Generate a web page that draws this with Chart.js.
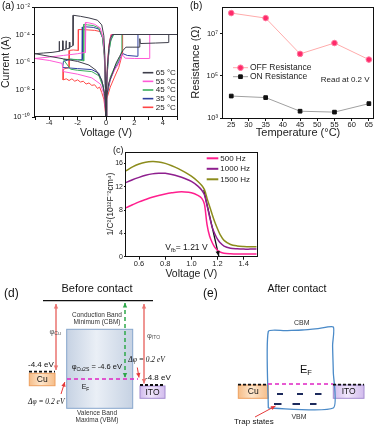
<!DOCTYPE html>
<html lang="en">
<head>
<meta charset="UTF-8">
<title>Cu2S memristor figure</title>
<script src="https://cdn.jsdelivr.net/npm/chart.js"></script>
<style>
  body { margin: 0; background: #fff; font-family: 'Liberation Sans', Arial, sans-serif; }
  #page { position: relative; width: 378px; height: 428px; overflow: hidden; background: #fff; }
  canvas { position: absolute; }
  .tag { position: absolute; font-size: 10px; color: #111; line-height: 12px; }
</style>
</head>
<body>
<div id="page">
  <canvas id="ivChart" width="188" height="139" style="left:0px;top:0px"></canvas>
  <canvas id="resChart" width="190" height="140" style="left:188px;top:0px"></canvas>
  <canvas id="mottChart" width="162" height="140" style="left:100px;top:140px"></canvas>
  <canvas id="bandChart" width="378" height="158" style="left:0px;top:270px"></canvas>
  <div class="tag" style="left:2px;top:0px">(a)</div>
  <div class="tag" style="left:190px;top:0px">(b)</div>
  <div class="tag" style="left:113px;top:144px;font-size:9px">(c)</div>
</div>

<script>
// ---------- (a) I-V sweeps, [voltage (V), current (A)] ----------
const iv65 = [[0,1e-10],[0.05,3e-9],[0.2,3e-8],[0.5,2e-7],[0.7,8e-7],[0.95,2.5e-6],[1.2,7e-6],[1.4,1.2e-5],[1.9,1.2e-5],[2.35,1.2e-5],
  [2.38,5e-5],[2.42,2.2e-5],[3.5,2.4e-5],[4.4,2.6e-5],[4.42,1e-4],[5,1e-4],[0.45,1e-4],[0.3,5e-5],[0.2,1e-5],[0.1,5e-7],[0.03,1e-8],[0,1e-10],
  [-0.03,1e-8],[-0.08,3e-6],[-0.15,8e-5],[-0.3,5e-4],[-0.6,1.1e-3],[-1.2,1.6e-3],[-1.8,2.1e-3],[-2.3,2.5e-3],[-2.32,1.6e-5],[-2.52,1.2e-5],
  [-2.55,2.8e-5],[-2.58,1e-5],[-2.77,9e-6],[-2.8,3.5e-5],[-2.83,8e-6],[-3.0,7.5e-6],[-3.03,3.5e-5],[-3.06,7e-6],[-3.24,6.5e-6],[-3.27,3.2e-5],
  [-3.3,6e-6],[-3.8,5e-6],[-4.4,4.5e-6],[-5,4e-6],
  [-4,2.6e-6],[-3,1.7e-6],[-2,1.1e-6],[-1.2,6e-7],[-0.7,2.5e-7],[-0.3,5e-8],[-0.1,5e-9],[0,1e-10]];
const iv55 = [[0,1e-10],[0.05,5e-9],[0.3,6e-8],[0.6,2.5e-7],[0.9,8e-7],[1.05,2e-6],[1.12,3.5e-6],[1.2,3e-6],[1.35,1.9e-6],[2,1.8e-6],[3.05,1.8e-6],
  [3.08,1e-4],[5,1e-4],[0.4,1e-4],[0.25,3e-5],[0.12,1e-6],[0.04,1e-8],[0,1e-10],
  [-0.03,1e-8],[-0.1,3e-6],[-0.2,5e-5],[-0.4,3e-4],[-0.8,5.5e-4],[-1.2,7e-4],[-1.42,7.5e-4],[-1.45,5e-6],[-2,4e-6],[-3,3e-6],[-4,2.3e-6],[-5,1.8e-6],
  [-4,1.3e-6],[-3.1,8e-7],[-3.0,2e-7],[-2,1.3e-7],[-1,7e-8],[-0.4,2.5e-8],[-0.15,5e-9],[0,1e-10]];
const iv45 = [[0,1e-10],[0.05,4e-9],[0.3,8e-8],[0.6,4e-7],[0.9,1.5e-6],[1.05,3.5e-6],[1.1,6e-6],[1.12,1e-4],[3,1e-4],[0.55,1e-4],[0.35,4e-5],
  [0.2,5e-6],[0.08,1e-7],[0,1e-10],
  [-0.04,1e-8],[-0.12,3e-6],[-0.25,6e-5],[-0.5,3e-4],[-0.9,4.5e-4],[-1.3,5e-4],[-1.55,5.5e-4],[-1.57,1.2e-6],[-2,1.5e-6],[-2.5,1.6e-6],[-3,1.5e-6],
  [-2.5,3e-7],[-2,2.5e-7],[-1,2e-7],[-0.5,1e-7],[-0.2,1.5e-8],[-0.05,1e-9],[0,1e-10]];
const iv35 = [[0,1e-10],[0.05,3e-9],[0.3,5e-8],[0.6,3e-7],[0.9,1e-6],[1.05,2.5e-6],[1.2,4e-6],[1.5,3e-6],[2.2,2.6e-6],[2.25,1e-4],[3,1e-4],
  [0.5,1e-4],[0.3,3e-5],[0.18,3e-6],[0.07,8e-8],[0,1e-10],
  [-0.04,1e-8],[-0.12,4e-6],[-0.25,6e-5],[-0.5,2.5e-4],[-0.9,3.3e-4],[-1.4,3.6e-4],[-1.65,3.5e-4],[-1.67,1.5e-6],[-2,1.4e-6],[-2.5,1.6e-6],
  [-3,1.1e-6],[-3.05,4e-7],[-2,3.3e-7],[-1,2.8e-7],[-0.5,1.5e-7],[-0.2,2e-8],[-0.05,1e-9],[0,1e-10]];
const iv25 = [[0,1e-10],[0.05,2e-9],[0.3,1.5e-8],[0.6,8e-8],[0.9,4e-7],[1.05,1.5e-6],[1.15,4e-6],[1.17,1e-4],[3,1e-4],[0.35,1e-4],[0.2,1.5e-5],
  [0.1,5e-7],[0.03,5e-9],[0,1e-10],
  [-0.03,1e-8],[-0.1,2e-6],[-0.2,4e-5],[-0.35,1.6e-4],[-0.8,2e-4],[-1.4,2.2e-4],[-1.93,2.3e-4],[-1.95,7e-6],[-2.3,7.5e-6],[-2.56,7e-6],
  [-2.6,4e-7],[-3,3e-7],[-3.02,5e-8],[-2.8,6e-8],[-2.6,4.5e-8],[-2.4,6e-8],[-2.2,4e-8],[-2.0,5e-8],[-1.8,3.5e-8],[-1.6,4e-8],[-1.4,2.5e-8],
  [-1.2,3e-8],[-1.0,2e-8],[-0.8,2.2e-8],[-0.6,1.2e-8],[-0.45,1.5e-8],[-0.3,6e-9],[-0.15,2e-9],[0,1e-10]];
const ivSeries = [iv65, iv55, iv45, iv35, iv25];
const ivLabels = ['65 °C', '55 °C', '45 °C', '35 °C', '25 °C'];
const ivColors = ['#3e3e4a', '#ff5ad6', '#3aae5c', '#2e3f9e', '#ff4646'];
const voltTickMarks = [-5, -4, -3, -2, -1, 0, 1, 2, 3, 4, 5];
const voltTicks = [-4, -2, 0, 2, 4];
const currentTicks = [1e-10, 1e-8, 1e-6, 1e-4, 1e-2];

// ---------- (b) resistance read at 0.2 V ----------
const temps = [25, 35, 45, 55, 65];
const offRes = [9.5e7, 5.5e7, 1.1e6, 3.6e6, 5.9e5];
const onRes = [1.1e4, 9.3e3, 2.1e3, 1.9e3, 4.8e3];
const tempTicks = [25, 30, 35, 40, 45, 50, 55, 60, 65];
const resTicks = [1e3, 1e5, 1e7];

// ---------- (c) Mott-Schottky ----------
const mottV = [0.5,0.55,0.6,0.65,0.7,0.75,0.8,0.85,0.9,0.95,1.0,1.05,1.08,1.1,1.12,1.14,1.16,1.18,1.2,1.22,1.25,1.3,1.35,1.4,1.45,1.5];
const c500 = [8.4,8.9,9.4,9.8,10.2,10.5,10.75,10.95,11.1,11.1,10.95,10.5,10.0,9.0,5.5,3.5,2.4,1.6,1.1,0.8,0.6,0.5,0.45,0.45,0.45,0.45];
const c1000 = [12.7,13.2,13.6,13.95,14.2,14.3,14.3,14.1,13.8,13.4,12.9,12.1,11.4,10.6,8.8,6.8,5.0,3.9,3.0,2.4,1.8,1.45,1.35,1.3,1.3,1.3];
const c1500 = [14.7,15.4,15.9,16.2,16.3,16.25,16.0,15.6,15.1,14.5,13.8,12.9,12.2,11.5,10.0,8.6,7.2,5.9,4.8,3.8,2.8,2.1,1.85,1.75,1.7,1.7];
const freqLabels = ['500 Hz', '1000 Hz', '1500 Hz'];
const freqColors = ['#ff1f8e', '#8e1f8e', '#8c8c1c'];
const fitLine = [[1.095, 11.4], [1.21, 0.1]];
const vfb = 1.21;
const mottXTicks = [0.6, 0.8, 1.0, 1.2, 1.4];
const mottYTicks = [0, 4, 8, 12, 16];

// ---------- (d)/(e) band diagrams, schematic units ----------
const bandLines = [
  // x0, y0, x1, y1, colour, width, dash
  [43, 300.7, 153, 300.7, '#111', 1.2, []],
  [29, 371.6, 55, 371.6, '#111', 1.8, [3, 2]],
  [140, 385, 165, 385, '#111', 1.8, [3, 2]],
  [67, 379, 138, 379, '#e024c4', 1.6, [4, 3]],
  [238, 384.6, 268, 384.6, '#111', 1.8, [3, 2]],
  [333, 384.6, 364, 384.6, '#111', 1.8, [3, 2]],
  [268, 384, 333, 384, '#e024c4', 1.6, [4, 3]],
  [277, 394, 283, 394, '#1c2a5c', 2, []],
  [297, 394, 303, 394, '#1c2a5c', 2, []],
  [315, 394, 321.5, 394, '#1c2a5c', 2, []],
  [274, 404, 281.5, 404, '#1c2a5c', 2, []],
  [292.5, 404, 300, 404, '#1c2a5c', 2, []],
  [310, 404, 316.5, 404, '#1c2a5c', 2, []]
];
const bandArrows = [
  // x0, y0, x1, y1, colour, width, dash, heads
  [56, 304, 56, 370, '#ea7470', 1.5, [], 'both'],
  [144, 304, 144, 383.5, '#ea7470', 1.5, [], 'both'],
  [125, 303, 125, 377.5, '#2ea84a', 1.5, [4, 3], 'both'],
  [137.3, 367.5, 139, 377.5, '#e53a3a', 1, [], 'end'],
  [61, 394, 64.8, 382, '#e53a3a', 1, [], 'end'],
  [255, 417, 275.5, 406, '#e53a3a', 1, [], 'end']
];
const afterOutline = [[268.3,408],[268.3,331.5],[285,330.6],[302,330],[318,328.6],[333.3,327],[332.6,345],[333.3,372],[333.3,408],[268.3,408]];
const bandBoxes = [
  // x0, y0, x1, y1, light, dark, edge
  [66.7, 329.3, 132.7, 408.3, '#eaeff6', '#c6d2e3', '#86a6cc'],
  [29.3, 373.3, 55, 385.7, '#fde6cc', '#f6bd88', '#eea060'],
  [140, 386, 165, 398.3, '#f0e6fa', '#d2bced', '#a48cd0'],
  [238.3, 385, 268.3, 398.3, '#fde6cc', '#f6bd88', '#eea060'],
  [333.3, 385, 364, 398.3, '#f0e6fa', '#d2bced', '#a48cd0']
];
const bandTexts = [
  {x: 4, y: 293.3, t: '(d)', s: 12},
  {x: 97, y: 289, t: 'Before contact', s: 11, a: 'center'},
  {x: 97, y: 315, t: 'Conduction Band', s: 6.5, a: 'center', c: '#333'},
  {x: 97, y: 322.5, t: 'Minimum (CBM)', s: 6.5, a: 'center', c: '#333'},
  {x: 49.5, y: 331.5, t: 'φ', sub: 'Cu', s: 7.5, c: '#555'},
  {x: 147, y: 335.7, t: 'φ', sub: 'ITO', s: 7.5, c: '#555'},
  {x: 28, y: 365, t: '-4.4 eV', s: 8},
  {x: 42.2, y: 379.6, t: 'Cu', s: 8.5, a: 'center'},
  {x: 71.7, y: 367.3, t: 'φ', sub: 'Cu2S', after: ' = -4.6 eV', s: 7.5},
  {x: 81.7, y: 387.5, t: 'E', sub: 'F', s: 7},
  {x: 128.3, y: 360, t: 'Δφ = 0.2 eV', s: 7.5, serif: true, italic: true},
  {x: 145, y: 377.3, t: '-4.8 eV', s: 8},
  {x: 152.5, y: 392.3, t: 'ITO', s: 8.5, a: 'center'},
  {x: 28, y: 401.7, t: 'Δφ = 0.2 eV', s: 7.5, serif: true, italic: true},
  {x: 97, y: 413.3, t: 'Valence Band', s: 6.5, a: 'center', c: '#333'},
  {x: 97, y: 420.7, t: 'Maxima (VBM)', s: 6.5, a: 'center', c: '#333'},
  {x: 203, y: 293.3, t: '(e)', s: 12},
  {x: 297, y: 289.3, t: 'After contact', s: 10.5, a: 'center'},
  {x: 301.7, y: 323.3, t: 'CBM', s: 7, a: 'center', c: '#333'},
  {x: 300, y: 370, t: 'E', sub: 'F', s: 11},
  {x: 253.3, y: 391.7, t: 'Cu', s: 8.5, a: 'center'},
  {x: 348.7, y: 391.7, t: 'ITO', s: 8.5, a: 'center'},
  {x: 299, y: 416.7, t: 'VBM', s: 7, a: 'center', c: '#333'},
  {x: 234, y: 421.5, t: 'Trap states', s: 8}
];

const FONT = "'Liberation Sans', Arial, sans-serif";
Chart.defaults.font.family = FONT;
Chart.defaults.color = '#222';
Chart.defaults.animation = false;

const SUP = {'-': '⁻', '0': '⁰', '1': '¹', '2': '²', '3': '³', '4': '⁴', '5': '⁵', '6': '⁶', '7': '⁷', '8': '⁸', '9': '⁹'};
function powLabel(v) {
  const e = String(Math.round(Math.log10(v)));
  return '10' + e.split('').map(c => SUP[c]).join('');
}

function drawLabel(ctx, px, py, item) {
  const fam = item.serif ? "'Liberation Serif', 'DejaVu Serif', serif" : FONT;
  const style = item.italic ? 'italic ' : '';
  const main = style + item.s + 'px ' + fam;
  const small = style + (item.s * 0.68).toFixed(1) + 'px ' + fam;
  ctx.font = main;
  const w1 = ctx.measureText(item.t).width;
  const w3 = item.after ? ctx.measureText(item.after).width : 0;
  ctx.font = small;
  const w2 = item.sub ? ctx.measureText(item.sub).width : 0;
  let left = px;
  if (item.a === 'center') left = px - (w1 + w2 + w3) / 2;
  ctx.fillStyle = item.c || '#111';
  ctx.textAlign = 'left';
  ctx.textBaseline = 'middle';
  ctx.font = main;
  ctx.fillText(item.t, left, py);
  if (item.sub) {
    ctx.font = small;
    ctx.fillText(item.sub, left + w1, py + item.s * 0.3);
  }
  if (item.after) {
    ctx.font = main;
    ctx.fillText(item.after, left + w1 + w2, py);
  }
}

function arrowHead(ctx, xt, yt, xf, yf, len, half, color) {
  const ang = Math.atan2(yt - yf, xt - xf);
  ctx.save();
  ctx.translate(xt, yt);
  ctx.rotate(ang);
  ctx.beginPath();
  ctx.moveTo(0, 0);
  ctx.lineTo(-len, -half);
  ctx.lineTo(-len, half);
  ctx.closePath();
  ctx.fillStyle = color;
  ctx.fill();
  ctx.restore();
}

// box round the plot area
const frame = {
  id: 'frame',
  afterDatasetsDraw(chart) {
    const {ctx, chartArea: a} = chart;
    ctx.save();
    ctx.strokeStyle = '#111';
    ctx.lineWidth = 1;
    ctx.strokeRect(Math.round(a.left) - 0.5, Math.round(a.top) + 0.5, Math.round(a.width) + 1, Math.round(a.height) - 1);
    ctx.restore();
  }
};

// legend drawn inside the plot
const inLegend = {
  id: 'inLegend',
  afterDraw(chart, args, o) {
    const ctx = chart.ctx;
    ctx.save();
    ctx.font = o.size + 'px ' + FONT;
    ctx.textBaseline = 'middle';
    ctx.textAlign = 'left';
    let row = 0;
    chart.data.datasets.forEach(ds => {
      if (ds.noLegend) return;
      const yy = o.y + row * o.dy;
      row++;
      ctx.strokeStyle = ds.borderColor;
      ctx.lineWidth = o.lineWidth;
      ctx.beginPath();
      ctx.moveTo(o.x, yy);
      ctx.lineTo(o.x + o.len, yy);
      ctx.stroke();
      if (ds.pointRadius > 0) {
        ctx.fillStyle = ds.pointBackgroundColor;
        ctx.strokeStyle = ds.pointBorderColor;
        ctx.lineWidth = 1;
        Chart.helpers.drawPoint(ctx, {pointStyle: ds.pointStyle, radius: ds.pointRadius, borderWidth: 1, rotation: 0}, o.x + o.len / 2, yy);
      }
      ctx.fillStyle = '#222';
      ctx.fillText(ds.label, o.x + o.len + o.gap, yy);
    });
    ctx.restore();
  }
};

function fixedTicks(values) {
  return scale => { scale.ticks = values.map(v => ({value: v})); };
}
const tickGrid = {display: true, drawOnChartArea: false, drawTicks: true, tickLength: 3, color: '#111'};

// ---------- (a) ----------
new Chart(document.getElementById('ivChart'), {
  type: 'scatter',
  data: {
    datasets: ivSeries.map((s, i) => ({
      label: ivLabels[i],
      data: s.map(p => ({x: p[0], y: p[1]})),
      showLine: true,
      borderColor: ivColors[i],
      borderWidth: 1,
      pointRadius: 0,
      tension: 0
    }))
  },
  options: {
    responsive: false,
    devicePixelRatio: 1,
    layout: {padding: {top: 7, right: 11, left: 0, bottom: 0}},
    plugins: {
      legend: {display: false},
      tooltip: {enabled: false},
      inLegend: {x: 142.7, y: 72.7, dy: 8.65, len: 10.6, gap: 2.5, size: 8, lineWidth: 1.6}
    },
    scales: {
      x: {
        type: 'linear', min: -5, max: 5,
        afterBuildTicks: fixedTicks(voltTickMarks),
        afterFit: s => { s.height = 22; },
        grid: tickGrid, border: {display: false},
        ticks: {font: {size: 7.5}, padding: -2, color: '#222', autoSkip: false,
          callback: v => (voltTicks.includes(v) ? String(v) : '')},
        title: {display: true, text: 'Voltage (V)', font: {size: 10.5}, padding: {top: 0, bottom: -0.5}, color: '#222'}
      },
      y: {
        type: 'logarithmic', min: 1e-10, max: 1e-2,
        afterBuildTicks: fixedTicks(currentTicks),
        afterFit: s => { s.width = 35; },
        grid: tickGrid, border: {display: false},
        ticks: {font: {size: 7.5}, padding: 2, color: '#222', callback: v => powLabel(v)},
        title: {display: true, text: 'Current (A)', font: {size: 10.5}, padding: {top: 0, bottom: 0}, color: '#222'}
      }
    }
  },
  plugins: [frame, inLegend]
});

// ---------- (b) ----------
const readNote = {
  id: 'readNote',
  afterDraw(chart) {
    const {ctx, scales: {x, y}} = chart;
    ctx.save();
    drawLabel(ctx, x.getPixelForValue(51), y.getPixelForValue(6.5e4), {t: 'Read at 0.2 V', s: 8, c: '#222'});
    ctx.restore();
  }
};
new Chart(document.getElementById('resChart'), {
  type: 'line',
  data: {
    datasets: [
      {label: 'OFF Resistance', data: temps.map((t, i) => ({x: t, y: offRes[i]})), borderColor: '#ffabab', borderWidth: 1,
        pointStyle: 'circle', pointRadius: 2.8, pointBackgroundColor: '#ff2a6a', pointBorderColor: '#ff7aa0', pointBorderWidth: 1},
      {label: 'ON Resistance', data: temps.map((t, i) => ({x: t, y: onRes[i]})), borderColor: '#a0a0a0', borderWidth: 1,
        pointStyle: 'rect', pointRadius: 2.6, pointBackgroundColor: '#111', pointBorderColor: '#111', pointBorderWidth: 1}
    ]
  },
  options: {
    responsive: false,
    devicePixelRatio: 1,
    layout: {padding: {top: 6, right: 5, left: 0, bottom: 0}},
    plugins: {
      legend: {display: false},
      tooltip: {enabled: false},
      inLegend: {x: 45, y: 67.7, dy: 9, len: 15, gap: 2, size: 8.5, lineWidth: 1}
    },
    scales: {
      x: {
        type: 'linear', min: 22.6, max: 66.2,
        afterBuildTicks: fixedTicks(tempTicks),
        afterFit: s => { s.height = 22; },
        grid: tickGrid, border: {display: false},
        ticks: {font: {size: 7.5}, padding: -1, color: '#222', autoSkip: false},
        title: {display: true, text: 'Temperature (°C)', font: {size: 11}, padding: {top: 0, bottom: 0.5}, color: '#222'}
      },
      y: {
        type: 'logarithmic', min: 1e3, max: 1.95e8,
        afterBuildTicks: fixedTicks(resTicks),
        afterFit: s => { s.width = 35; },
        grid: tickGrid, border: {display: false},
        ticks: {font: {size: 7.5}, padding: 2, color: '#222', callback: v => powLabel(v)},
        title: {display: true, text: 'Resistance (Ω)', font: {size: 11}, padding: {top: 1.4, bottom: 0}, color: '#222'}
      }
    }
  },
  plugins: [frame, inLegend, readNote]
});

// ---------- (c) ----------
const vfbNote = {
  id: 'vfbNote',
  afterDatasetsDraw(chart) {
    const {ctx, scales: {x, y}} = chart;
    ctx.save();
    const p0 = fitLine[0], p1 = fitLine[1];
    arrowHead(ctx, x.getPixelForValue(p1[0]), y.getPixelForValue(p1[1]), x.getPixelForValue(p0[0]), y.getPixelForValue(p0[1]), 5, 2.2, '#111');
    drawLabel(ctx, x.getPixelForValue(0.8), y.getPixelForValue(1.5), {t: 'V', sub: 'fb', after: '= ' + vfb.toFixed(2) + ' V', s: 8.5, c: '#111'});
    ctx.restore();
  }
};
new Chart(document.getElementById('mottChart'), {
  type: 'scatter',
  data: {
    datasets: [c500, c1000, c1500].map((s, i) => ({
      label: freqLabels[i],
      data: s.map((v, j) => ({x: mottV[j], y: v})),
      showLine: true, borderColor: freqColors[i], borderWidth: 1.5, pointRadius: 0, tension: 0.3
    })).concat([{
      label: 'fit', noLegend: true,
      data: fitLine.map(p => ({x: p[0], y: p[1]})),
      showLine: true, borderColor: '#111', borderWidth: 1.3, pointRadius: 0
    }])
  },
  options: {
    responsive: false,
    devicePixelRatio: 1,
    layout: {padding: {top: 11.7, right: 5.3, left: 0, bottom: 0}},
    plugins: {
      legend: {display: false},
      tooltip: {enabled: false},
      inLegend: {x: 106.7, y: 18.3, dy: 10.5, len: 11.6, gap: 2, size: 8, lineWidth: 2}
    },
    scales: {
      x: {
        type: 'linear', min: 0.5, max: 1.5,
        afterBuildTicks: fixedTicks(mottXTicks),
        afterFit: s => { s.height = 23.3; },
        grid: tickGrid, border: {display: false},
        ticks: {font: {size: 7.5}, padding: 0, color: '#222', callback: v => v.toFixed(1)},
        title: {display: true, text: 'Voltage (V)', font: {size: 10.5}, padding: {top: 0, bottom: 0}, color: '#222'}
      },
      y: {
        type: 'linear', min: 0, max: 18,
        afterBuildTicks: fixedTicks(mottYTicks),
        afterFit: s => { s.width = 26; },
        grid: {display: true, drawOnChartArea: false, drawTicks: true, tickLength: 2, color: '#111'},
        border: {display: false},
        ticks: {font: {size: 7}, padding: 1, color: '#222'},
        title: {display: true, text: '1/C²(10¹²F⁻²cm⁴)', font: {size: 8.5}, padding: {top: 6, bottom: 0}, color: '#222'}
      }
    }
  },
  plugins: [frame, inLegend, vfbNote]
});

// ---------- (d) and (e) ----------
const bandArt = {
  id: 'bandArt',
  beforeDatasetsDraw(chart) {
    const {ctx, scales: {x, y}} = chart;
    ctx.save();
    bandBoxes.forEach(b => {
      const x0 = x.getPixelForValue(b[0]), y0 = y.getPixelForValue(b[1]);
      const x1 = x.getPixelForValue(b[2]), y1 = y.getPixelForValue(b[3]);
      const g = ctx.createLinearGradient(x0, 0, x1, 0);
      g.addColorStop(0, b[5]);
      g.addColorStop(0.45, b[4]);
      g.addColorStop(1, b[5]);
      ctx.fillStyle = g;
      ctx.fillRect(x0, y0, x1 - x0, y1 - y0);
      ctx.strokeStyle = b[6];
      ctx.lineWidth = 1;
      ctx.strokeRect(x0, y0, x1 - x0, y1 - y0);
    });
    ctx.restore();
  },
  afterDatasetsDraw(chart) {
    const {ctx, scales: {x, y}} = chart;
    ctx.save();
    bandArrows.forEach(a => {
      const x0 = x.getPixelForValue(a[0]), y0 = y.getPixelForValue(a[1]);
      const x1 = x.getPixelForValue(a[2]), y1 = y.getPixelForValue(a[3]);
      arrowHead(ctx, x1, y1, x0, y0, 4.5, 2.2, a[4]);
      if (a[7] === 'both') arrowHead(ctx, x0, y0, x1, y1, 4.5, 2.2, a[4]);
    });
    bandTexts.forEach(t => drawLabel(ctx, x.getPixelForValue(t.x), y.getPixelForValue(t.y), t));
    ctx.restore();
  }
};
const bandSets = bandLines.map(l => ({
  data: [{x: l[0], y: l[1]}, {x: l[2], y: l[3]}],
  showLine: true, borderColor: l[4], borderWidth: l[5], borderDash: l[6], pointRadius: 0
})).concat(bandArrows.map(a => ({
  data: [{x: a[0], y: a[1]}, {x: a[2], y: a[3]}],
  showLine: true, borderColor: a[4], borderWidth: a[5], borderDash: a[6], pointRadius: 0
}))).concat([{
  data: afterOutline.map(p => ({x: p[0], y: p[1]})),
  showLine: true, borderColor: '#4a8ac8', borderWidth: 1.3, pointRadius: 0, tension: 0.2
}]);
new Chart(document.getElementById('bandChart'), {
  type: 'scatter',
  data: {datasets: bandSets},
  options: {
    responsive: false,
    devicePixelRatio: 1,
    layout: {padding: 0},
    plugins: {legend: {display: false}, tooltip: {enabled: false}},
    scales: {
      x: {type: 'linear', min: 0, max: 378, display: false},
      y: {type: 'linear', min: 270, max: 428, reverse: true, display: false}
    }
  },
  plugins: [bandArt]
});
</script>
</body>
</html>
